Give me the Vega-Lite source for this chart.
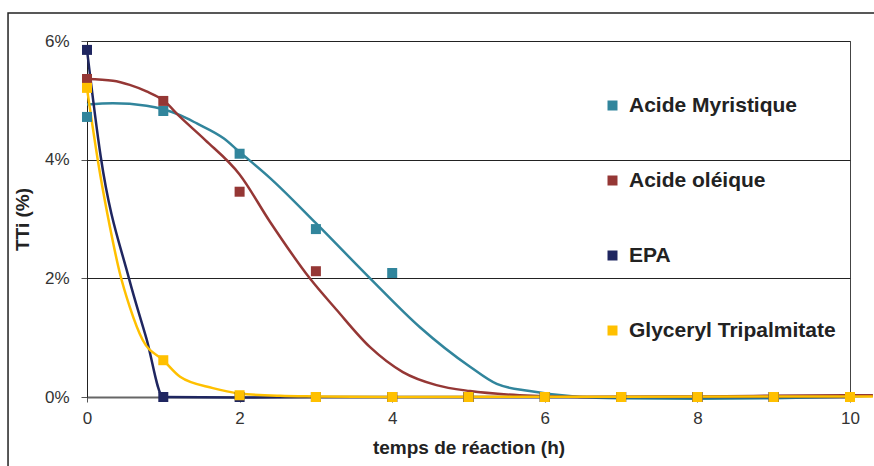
{
  "$schema": "https://vega.github.io/schema/vega-lite/v6.json",
  "width": 763,
  "height": 356,
  "autosize": {"type": "none"},
  "padding": {"left": 87, "top": 41, "right": 24, "bottom": 69},
  "background": "white",
  "config": {
    "font": "Liberation Sans",
    "view": {"stroke": "#444", "strokeWidth": 1}
  },
  "datasets": {
    "pts": [
      {"serie": "Acide Myristique", "t": 0, "v": 4.72},
      {"serie": "Acide Myristique", "t": 1, "v": 4.82},
      {"serie": "Acide Myristique", "t": 2, "v": 4.10},
      {"serie": "Acide Myristique", "t": 3, "v": 2.83},
      {"serie": "Acide Myristique", "t": 4, "v": 2.09},
      {"serie": "Acide Myristique", "t": 5, "v": 0},
      {"serie": "Acide Myristique", "t": 6, "v": 0},
      {"serie": "Acide Myristique", "t": 7, "v": 0},
      {"serie": "Acide Myristique", "t": 8, "v": 0},
      {"serie": "Acide Myristique", "t": 9, "v": 0},
      {"serie": "Acide Myristique", "t": 10, "v": 0},
      {"serie": "Acide oléique", "t": 0, "v": 5.36},
      {"serie": "Acide oléique", "t": 1, "v": 4.99},
      {"serie": "Acide oléique", "t": 2, "v": 3.46},
      {"serie": "Acide oléique", "t": 3, "v": 2.12},
      {"serie": "Acide oléique", "t": 4, "v": 0},
      {"serie": "Acide oléique", "t": 5, "v": 0},
      {"serie": "Acide oléique", "t": 6, "v": 0},
      {"serie": "Acide oléique", "t": 7, "v": 0},
      {"serie": "Acide oléique", "t": 8, "v": 0},
      {"serie": "Acide oléique", "t": 9, "v": 0},
      {"serie": "Acide oléique", "t": 10, "v": 0},
      {"serie": "EPA", "t": 0, "v": 5.85},
      {"serie": "EPA", "t": 1, "v": 0},
      {"serie": "EPA", "t": 2, "v": 0},
      {"serie": "EPA", "t": 3, "v": 0},
      {"serie": "EPA", "t": 4, "v": 0},
      {"serie": "EPA", "t": 5, "v": 0},
      {"serie": "EPA", "t": 6, "v": 0},
      {"serie": "EPA", "t": 7, "v": 0},
      {"serie": "EPA", "t": 8, "v": 0},
      {"serie": "EPA", "t": 9, "v": 0},
      {"serie": "EPA", "t": 10, "v": 0},
      {"serie": "Glyceryl Tripalmitate", "t": 0, "v": 5.21},
      {"serie": "Glyceryl Tripalmitate", "t": 1, "v": 0.62},
      {"serie": "Glyceryl Tripalmitate", "t": 2, "v": 0.03},
      {"serie": "Glyceryl Tripalmitate", "t": 3, "v": 0},
      {"serie": "Glyceryl Tripalmitate", "t": 4, "v": 0},
      {"serie": "Glyceryl Tripalmitate", "t": 5, "v": 0},
      {"serie": "Glyceryl Tripalmitate", "t": 6, "v": 0},
      {"serie": "Glyceryl Tripalmitate", "t": 7, "v": 0},
      {"serie": "Glyceryl Tripalmitate", "t": 8, "v": 0},
      {"serie": "Glyceryl Tripalmitate", "t": 9, "v": 0},
      {"serie": "Glyceryl Tripalmitate", "t": 10, "v": 0}
    ],
    "curves": [
      {"courbe": "Acide Myristique", "t": 0, "v": 4.93},
      {"courbe": "Acide Myristique", "t": 0.34, "v": 4.95},
      {"courbe": "Acide Myristique", "t": 0.78, "v": 4.91},
      {"courbe": "Acide Myristique", "t": 1.0, "v": 4.85},
      {"courbe": "Acide Myristique", "t": 1.22, "v": 4.75},
      {"courbe": "Acide Myristique", "t": 1.44, "v": 4.61},
      {"courbe": "Acide Myristique", "t": 1.79, "v": 4.36},
      {"courbe": "Acide Myristique", "t": 2.0, "v": 4.13},
      {"courbe": "Acide Myristique", "t": 2.4, "v": 3.69},
      {"courbe": "Acide Myristique", "t": 3.0, "v": 2.93},
      {"courbe": "Acide Myristique", "t": 3.71, "v": 2.0},
      {"courbe": "Acide Myristique", "t": 4.36, "v": 1.18},
      {"courbe": "Acide Myristique", "t": 5.02, "v": 0.51},
      {"courbe": "Acide Myristique", "t": 5.37, "v": 0.22},
      {"courbe": "Acide Myristique", "t": 5.8, "v": 0.1},
      {"courbe": "Acide Myristique", "t": 6.46, "v": 0.0},
      {"courbe": "Acide Myristique", "t": 7, "v": -0.02},
      {"courbe": "Acide Myristique", "t": 8, "v": -0.03},
      {"courbe": "Acide Myristique", "t": 9, "v": -0.02},
      {"courbe": "Acide Myristique", "t": 10, "v": 0.01},
      {"courbe": "Acide Myristique", "t": 10.3, "v": 0.02},
      {"courbe": "Acide oléique", "t": 0, "v": 5.36},
      {"courbe": "Acide oléique", "t": 0.34, "v": 5.33},
      {"courbe": "Acide oléique", "t": 0.56, "v": 5.26},
      {"courbe": "Acide oléique", "t": 0.78, "v": 5.15},
      {"courbe": "Acide oléique", "t": 1.0, "v": 5.0},
      {"courbe": "Acide oléique", "t": 1.22, "v": 4.72},
      {"courbe": "Acide oléique", "t": 1.55, "v": 4.33},
      {"courbe": "Acide oléique", "t": 2.0, "v": 3.75},
      {"courbe": "Acide oléique", "t": 2.4, "v": 2.95},
      {"courbe": "Acide oléique", "t": 2.92, "v": 2.0},
      {"courbe": "Acide oléique", "t": 3.27, "v": 1.47},
      {"courbe": "Acide oléique", "t": 3.71, "v": 0.84},
      {"courbe": "Acide oléique", "t": 4.14, "v": 0.42},
      {"courbe": "Acide oléique", "t": 4.58, "v": 0.2},
      {"courbe": "Acide oléique", "t": 5.02, "v": 0.1},
      {"courbe": "Acide oléique", "t": 5.67, "v": 0.03},
      {"courbe": "Acide oléique", "t": 6.5, "v": 0.0},
      {"courbe": "Acide oléique", "t": 8, "v": 0.01},
      {"courbe": "Acide oléique", "t": 10, "v": 0.03},
      {"courbe": "Acide oléique", "t": 10.3, "v": 0.03},
      {"courbe": "EPA", "t": 0, "v": 5.85},
      {"courbe": "EPA", "t": 0.18, "v": 4.05},
      {"courbe": "EPA", "t": 0.55, "v": 2.0},
      {"courbe": "EPA", "t": 0.78, "v": 0.98},
      {"courbe": "EPA", "t": 1.0, "v": 0.0},
      {"courbe": "EPA", "t": 2, "v": -0.01},
      {"courbe": "EPA", "t": 3, "v": 0},
      {"courbe": "EPA", "t": 10, "v": 0},
      {"courbe": "Glyceryl Tripalmitate", "t": 0, "v": 5.2},
      {"courbe": "Glyceryl Tripalmitate", "t": 0.17, "v": 3.77},
      {"courbe": "Glyceryl Tripalmitate", "t": 0.3, "v": 2.87},
      {"courbe": "Glyceryl Tripalmitate", "t": 0.43, "v": 2.09},
      {"courbe": "Glyceryl Tripalmitate", "t": 0.56, "v": 1.52},
      {"courbe": "Glyceryl Tripalmitate", "t": 0.73, "v": 0.96},
      {"courbe": "Glyceryl Tripalmitate", "t": 1.0, "v": 0.62},
      {"courbe": "Glyceryl Tripalmitate", "t": 1.22, "v": 0.34},
      {"courbe": "Glyceryl Tripalmitate", "t": 1.65, "v": 0.15},
      {"courbe": "Glyceryl Tripalmitate", "t": 2.0, "v": 0.06},
      {"courbe": "Glyceryl Tripalmitate", "t": 2.53, "v": 0.02},
      {"courbe": "Glyceryl Tripalmitate", "t": 3, "v": 0.01},
      {"courbe": "Glyceryl Tripalmitate", "t": 4, "v": 0.0},
      {"courbe": "Glyceryl Tripalmitate", "t": 10, "v": 0.01},
      {"courbe": "Glyceryl Tripalmitate", "t": 10.3, "v": 0.01}
    ]
  },
  "layer": [
    {
      "data": {"values": [{"cadre": "graphique"}]},
      "mark": {"type": "rect", "fill": null, "stroke": "#222", "strokeWidth": 1.5, "clip": false},
      "encoding": {
        "x": {"datum": -1.035, "type": "quantitative"},
        "x2": {"datum": 12},
        "y": {"datum": 6.47, "type": "quantitative"},
        "y2": {"datum": -3}
      }
    },
    {
      "data": {"name": "curves"},
      "mark": {"type": "line", "interpolate": "monotone", "strokeWidth": 2.5, "clip": false},
      "encoding": {
        "x": {"field": "t", "type": "quantitative",
          "scale": {"domain": [0, 10], "nice": false},
          "axis": {"values": [0, 2, 4, 6, 8, 10], "format": "d", "grid": false, "title": "temps de réaction (h)",
            "titleFontSize": 19, "titleFontWeight": "bold", "titleColor": "#222", "titlePadding": 12,
            "labelFontSize": 17, "labelColor": "#333", "labelPadding": 8, "labelFlush": false,
            "tickSize": 5, "tickColor": "#555", "domainColor": "#666", "domainWidth": 2}},
        "y": {"field": "v", "type": "quantitative",
          "scale": {"domain": [0, 6], "nice": false},
          "axis": {"values": [0, 2, 4, 6], "labelExpr": "datum.value + '%'", "grid": true, "gridColor": "#222", "gridWidth": 1,
            "title": "TTi (%)", "titleFontSize": 19, "titleFontWeight": "bold", "titleColor": "#222", "titlePadding": 12,
            "labelFontSize": 17, "labelColor": "#333", "labelPadding": 12, "labelFlush": false,
            "tickSize": 6, "tickColor": "#555", "domainColor": "#222", "domainWidth": 1}},
        "stroke": {"field": "courbe", "type": "nominal", "legend": null,
          "scale": {"domain": ["Acide Myristique", "Acide oléique", "EPA", "Glyceryl Tripalmitate"],
            "range": ["#31859C", "#953735", "#1F2660", "#FFC000"]}},
        "detail": {"field": "courbe"}
      }
    },
    {
      "data": {"name": "pts"},
      "mark": {"type": "point", "shape": "square", "filled": true, "opacity": 1, "size": 100, "clip": false},
      "encoding": {
        "x": {"field": "t", "type": "quantitative"},
        "y": {"field": "v", "type": "quantitative"},
        "color": {"field": "serie", "type": "nominal",
          "scale": {"domain": ["Acide Myristique", "Acide oléique", "EPA", "Glyceryl Tripalmitate"],
            "range": ["#31859C", "#953735", "#1F2660", "#FFC000"]},
          "legend": {"orient": "none", "legendX": 515, "legendY": 54, "title": null,
            "labelFontSize": 21, "labelFontWeight": "bold", "labelColor": "#222",
            "symbolType": "square", "symbolSize": 100, "symbolStrokeWidth": 0,
            "rowPadding": 53, "labelOffset": 6, "labelLimit": 400}}
      }
    }
  ],
  "resolve": {"scale": {"color": "independent", "stroke": "independent"}, "legend": {"color": "independent", "stroke": "independent"}}
}
